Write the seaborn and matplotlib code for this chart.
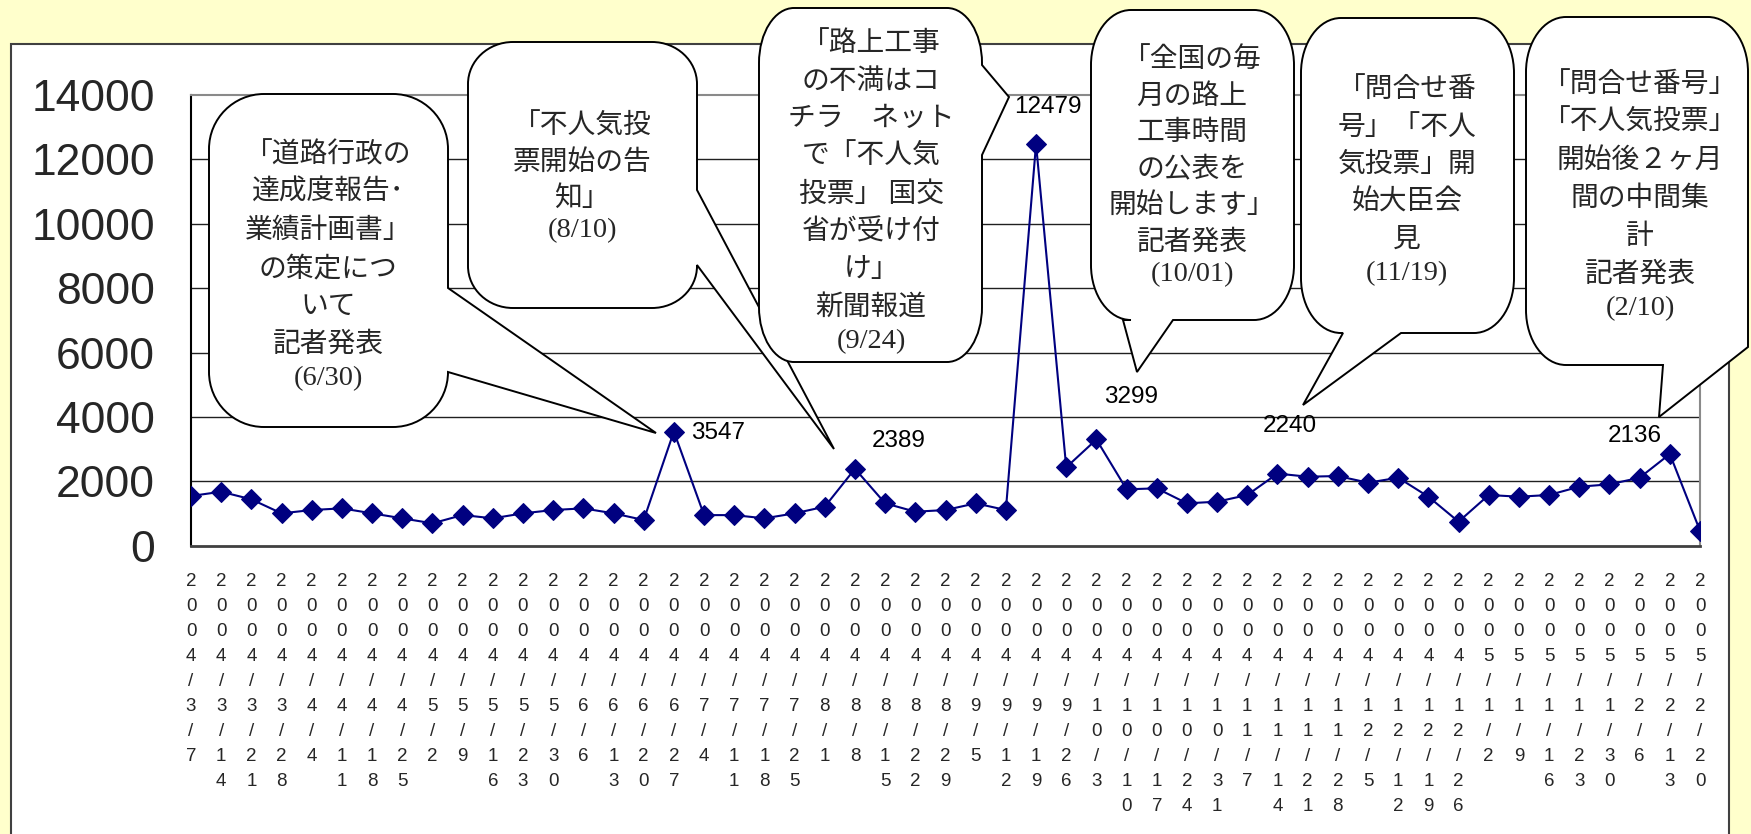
import matplotlib
matplotlib.use("Agg")
import matplotlib.pyplot as plt
import seaborn as sns
import pandas as pd
from matplotlib.path import Path
from matplotlib.patches import PathPatch, Rectangle

# ---------------- data ----------------
dates = ["2004/3/7", "2004/3/14", "2004/3/21", "2004/3/28", "2004/4/4", "2004/4/11",
         "2004/4/18", "2004/4/25", "2004/5/2", "2004/5/9", "2004/5/16", "2004/5/23",
         "2004/5/30", "2004/6/6", "2004/6/13", "2004/6/20", "2004/6/27", "2004/7/4",
         "2004/7/11", "2004/7/18", "2004/7/25", "2004/8/1", "2004/8/8", "2004/8/15",
         "2004/8/22", "2004/8/29", "2004/9/5", "2004/9/12", "2004/9/19", "2004/9/26",
         "2004/10/3", "2004/10/10", "2004/10/17", "2004/10/24", "2004/10/31", "2004/11/7",
         "2004/11/14", "2004/11/21", "2004/11/28", "2004/12/5", "2004/12/12", "2004/12/19",
         "2004/12/26", "2005/1/2", "2005/1/9", "2005/1/16", "2005/1/23", "2005/1/30",
         "2005/2/6", "2005/2/13", "2005/2/20"]
counts = [1544, 1677, 1440, 1005, 1108, 1160, 1005, 850, 695, 953,
          850, 1005, 1108, 1160, 1005, 798, 3547, 950, 950, 850,
          1005, 1212, 2389, 1316, 1056, 1108, 1316, 1108, 12479, 2434,
          3299, 1751, 1782, 1316, 1367, 1575, 2240, 2143, 2164, 1957,
          2112, 1522, 746, 1575, 1522, 1575, 1833, 1906, 2112, 2848, 466]
yticks = [0, 2000, 4000, 6000, 8000, 10000, 12000, 14000]
value_labels = ["3547", "2389", "12479", "3299", "2240", "2136"]

callout_lines = [
    ["「道路行政の", "達成度報告･", "業績計画書」", "の策定につ", "いて", "記者発表"],
    ["「不人気投", "票開始の告", "知」"],
    ["「路上工事", "の不満はコ", "チラ　ネット", "で「不人気", "投票」 国交", "省が受け付", "け」", "新聞報道"],
    ["「全国の毎", "月の路上", "工事時間", "の公表を", "開始します」", "記者発表"],
    ["「問合せ番", "号」「不人", "気投票」開", "始大臣会", "見"],
    ["「問合せ番号」", "「不人気投票」", "開始後２ヶ月", "間の中間集", "計", "記者発表"],
]
callout_dates = ["(6/30)", "(8/10)", "(9/24)", "(10/01)", "(11/19)", "(2/10)"]

# ---------------- layout (pixels) ----------------
W, H = 1751, 834
# box: x0, y0, x1, y1, rx, ry ; tail: side, base1, tip, base2 ; text: cx, first_y, step
callout_layout = [
    dict(box=(209, 94, 448, 427, 55, 55), tail=("right", 288, (656, 433), 372), text=(328, 150, 38)),
    dict(box=(468, 42, 697, 308, 45, 42), tail=("right", 190, (834, 449), 265), text=(582, 122, 36)),
    dict(box=(759, 8, 982, 362, 35, 55), tail=("right", 65, (1009, 97), 155), text=(871, 39, 37.7)),
    dict(box=(1091, 10, 1294, 320, 40, 55), tail=("bottom", 1123, (1137, 372), 1173), text=(1192, 55, 36.5)),
    dict(box=(1301, 18, 1514, 333, 40, 55), tail=("bottom", 1343, (1303, 405), 1401), text=(1407, 85, 37.5)),
    dict(box=(1526, 17, 1748, 365, 40, 55), tail=("br", 1663, (1659, 417), 347), text=(1640, 80, 38)),
]
label_pos = [(718, 433), (899, 441), (1048, 107), (1131, 397), (1290, 426), (1635, 436)]
TEXT_DY = 4  # visual centring offset of the CJK glyphs


def fx(x):
    return x / W


def fy(y):
    return 1 - y / H


sns.set_style("white")
plt.rcParams['font.family'] = ['Liberation Sans', 'DejaVu Sans']
CJK = ['Noto Sans CJK JP', 'DejaVu Sans']

fig = plt.figure(figsize=(W / 100, H / 100), dpi=100)
fig.patch.set_facecolor("#FFFFCC")

# white panel
panel = Rectangle((fx(11), -0.02), fx(1729) - fx(11), fy(44) + 0.02, transform=fig.transFigure,
                  facecolor="white", edgecolor="#404040", linewidth=1.5, zorder=-1)
fig.add_artist(panel)

ax = fig.add_axes([fx(191), fy(545.7), fx(1700) - fx(191), fy(95) - fy(545.7)])
ax.set_facecolor("white")

df = pd.DataFrame({"idx": range(len(dates)), "count": counts})
sns.lineplot(data=df, x="idx", y="count", ax=ax, color="#000080", linewidth=1.5,
             marker="D", markersize=10, markerfacecolor="#000080", markeredgecolor="#000080",
             zorder=3)

ax.set_xlim(0, len(dates) - 1)
ax.set_ylim(0, 14000)
ax.set_yticks(yticks)
ax.set_yticklabels([str(v) for v in yticks], fontsize=32)
ax.set_xticks(range(len(dates)))
ax.set_xticklabels(["\n".join(list(d)) for d in dates], fontsize=13.5, linespacing=1.62,
                   va="top")
ax.tick_params(axis="x", direction="in", length=5, width=1, color="#333333", pad=19.5)
ax.tick_params(axis="y", length=0, pad=26)
ax.set_xlabel("")
ax.set_ylabel("")

ax.grid(False)
for v in yticks[1:-1]:
    ax.axhline(v, color="#202020", linewidth=1.0, zorder=1)
ax.spines["left"].set_color("black")
ax.spines["left"].set_linewidth(1.5)
ax.spines["bottom"].set_color("#404040")
ax.spines["bottom"].set_linewidth(2.0)
ax.spines["top"].set_color("#8a8a8a")
ax.spines["top"].set_linewidth(1.5)
ax.spines["right"].set_color("#8a8a8a")
ax.spines["right"].set_linewidth(1.5)

# value labels
for txt, (px, py) in zip(value_labels, label_pos):
    fig.text(fx(px), fy(py), txt, ha="center", va="center", fontsize=17.5, color="black",
             zorder=4)

K = 0.5523


def bubble(box, tail):
    x0, y0, x1, y1, rx, ry = box
    side, b1, tip, b2 = tail
    v, c = [], []

    def M(p):
        v.append(p); c.append(Path.MOVETO)

    def L(p):
        v.append(p); c.append(Path.LINETO)

    def C(p1, p2, p3):
        v.extend([p1, p2, p3]); c.extend([Path.CURVE4] * 3)

    M((x0 + rx, y0))
    L((x1 - rx, y0))
    C((x1 - rx + K * rx, y0), (x1, y0 + ry - K * ry), (x1, y0 + ry))
    if side == "right":
        L((x1, b1)); L(tip); L((x1, b2))
    if side == "br":
        L((x1, b2)); L(tip); L((b1, y1))
    else:
        L((x1, y1 - ry))
        C((x1, y1 - ry + K * ry), (x1 - rx + K * rx, y1), (x1 - rx, y1))
    if side == "bottom":
        L((b2, y1)); L(tip); L((b1, y1))
    L((x0 + rx, y1))
    C((x0 + rx - K * rx, y1), (x0, y1 - ry + K * ry), (x0, y1 - ry))
    L((x0, y0 + ry))
    C((x0, y0 + ry - K * ry), (x0 + rx - K * rx, y0), (x0 + rx, y0))
    v.append((x0 + rx, y0)); c.append(Path.CLOSEPOLY)
    v = [(fx(a), fy(b)) for a, b in v]
    return Path(v, c)


for lines, date, lay in zip(callout_lines, callout_dates, callout_layout):
    patch = PathPatch(bubble(lay["box"], lay["tail"]), transform=fig.transFigure,
                      facecolor="white", edgecolor="black", linewidth=1.4, zorder=5)
    fig.add_artist(patch)
    cx, y, step = lay["text"]
    for ln in lines:
        fig.text(fx(cx), fy(y + TEXT_DY), ln, ha="center", va="center", fontsize=20,
                 family=CJK, zorder=6)
        y += step
    fig.text(fx(cx), fy(y + 1), date, ha="center", va="center", fontsize=20.5,
             family=["Liberation Serif", "DejaVu Serif"], zorder=6)

fig.savefig("out.png", dpi=100, facecolor=fig.get_facecolor())
